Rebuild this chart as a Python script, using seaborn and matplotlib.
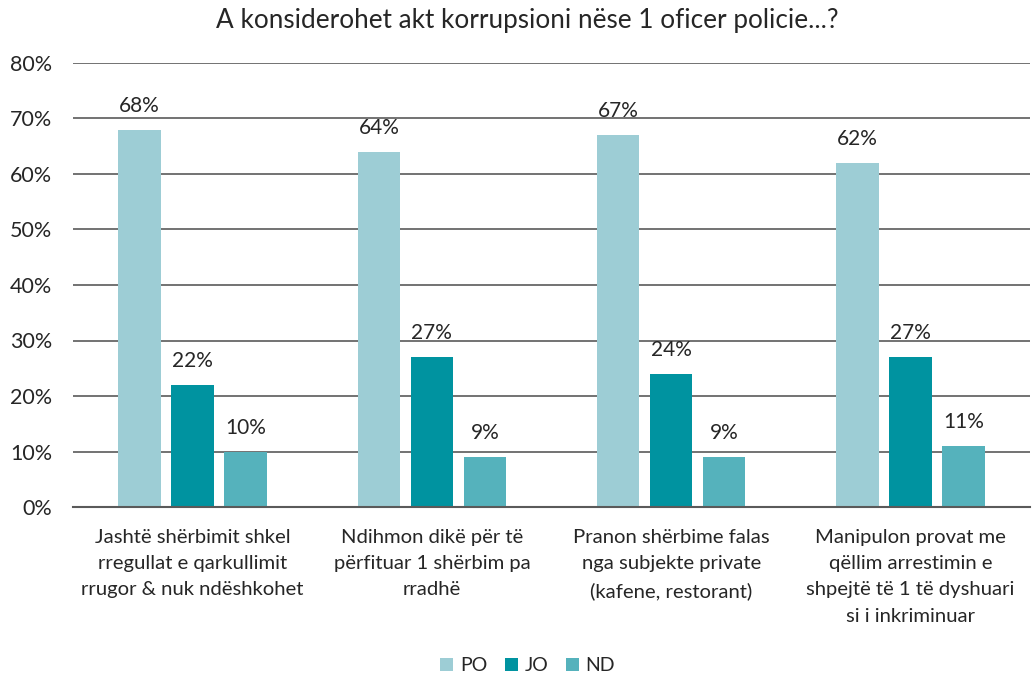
import seaborn as sns
import matplotlib.pyplot as plt
import pandas as pd
from matplotlib.ticker import PercentFormatter

# Datos del gráfico
categorias = [
    "Jashtë shërbimit shkel\nrregullat e qarkullimit\nrrugor & nuk ndëshkohet",
    "Ndihmon dikë për të\npërfituar 1 shërbim pa\nrradhë",
    "Pranon shërbime falas\nnga subjekte private\n(kafene, restorant)",
    "Manipulon provat me\nqëllim arrestimin e\nshpejtë të 1 të dyshuari\nsi i inkriminuar",
]
series = ["PO", "JO", "ND"]
po = [68, 64, 67, 62]
jo = [22, 27, 24, 27]
nd = [10, 9, 9, 11]
colores = ["#9DCDD5", "#0093A0", "#55B2BC"]

df = pd.DataFrame({
    "categoria": categorias * 3,
    "serie": [s for s in series for _ in categorias],
    "valor": po + jo + nd,
})

sns.set_theme(style="white")
plt.rcParams["font.family"] = ["Lato", "DejaVu Sans"]

fig = plt.figure(figsize=(10.33, 6.76), dpi=100)
ax = fig.add_axes([73 / 1033, 1 - 507 / 676, 957 / 1033, 444 / 676])

sns.barplot(data=df, x="categoria", y="valor", hue="serie", palette=colores,
            width=0.665, gap=0.2, ax=ax, saturation=1, legend=True,
            linewidth=0)

for cont in ax.containers:
    ax.bar_label(cont, labels=[f"{v:.0f}%" for v in cont.datavalues],
                 padding=10, fontsize=15, color="#262626")

ax.set_ylim(0, 80)
ax.set_xlim(-0.5, 3.5)
ax.set_yticks(range(0, 81, 10))
ax.yaxis.set_major_formatter(PercentFormatter(decimals=0))
ax.yaxis.grid(True, color="#5a5a5a", linewidth=1.2)
ax.set_axisbelow(True)
for s in ["top", "right", "left"]:
    ax.spines[s].set_visible(False)
ax.spines["bottom"].set_color("#5a5a5a")
ax.spines["bottom"].set_linewidth(1.5)
ax.set_xlabel("")
ax.set_ylabel("")
ax.tick_params(axis="y", labelsize=15.5, labelcolor="#262626", pad=15, length=0)
ax.tick_params(axis="x", labelsize=14.6, labelcolor="#262626", pad=16, length=0)
for t in ax.get_xticklabels():
    t.set_linespacing(1.65)

fig.text(527 / 1033, 0.97, "A konsiderohet akt korrupsioni nëse 1 oficer policie...?",
         ha="center", va="center", fontsize=18.8, color="#262626")

leg = ax.legend(loc="center", bbox_to_anchor=(0.475, -0.357), ncol=3,
                frameon=False, fontsize=14, handlelength=0.67, handleheight=0.67,
                columnspacing=0.9, handletextpad=0.35)
for t in leg.get_texts():
    t.set_color("#262626")

fig.savefig("out.png", dpi=100)
